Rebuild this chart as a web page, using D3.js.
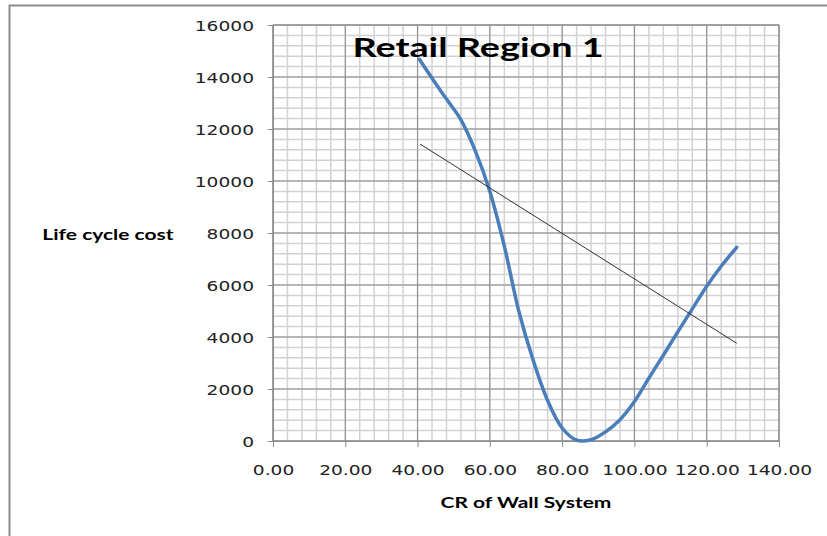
<!DOCTYPE html>
<html>
<head>
<meta charset="utf-8">
<script src="https://cdn.jsdelivr.net/npm/d3@7/dist/d3.min.js"></script>
<style>
  html, body { margin: 0; padding: 0; background: #fff; }
  svg { display: block; }
</style>
</head>
<body>
<svg id="chart" width="827" height="536"></svg>
<script>
// ---- Data ----
const title = "Retail Region 1";
const xTitle = "CR of Wall System";
const yTitle = "Life cycle cost";
const xTicks = [0, 20, 40, 60, 80, 100, 120, 140];
const yTicks = [0, 2000, 4000, 6000, 8000, 10000, 12000, 14000, 16000];
const crValues = [40.5, 44, 48, 52, 56, 60, 64, 68, 72, 76, 80, 84, 88, 92, 96, 100, 104, 108, 112, 116, 120, 124, 128.3];
const lifeCycleCost = [14680, 13950, 13150, 12350, 11150, 9600, 7500, 5000, 3100, 1550, 500, 30, 50, 350, 820, 1520, 2420, 3300, 4200, 5080, 5950, 6720, 7450];
const trendCR = [40.7, 128.3];
const trendCost = [11420, 3760];

(function () {
// ---- Layout ----
const W = 827, H = 536;
const pLeft = 273, pRight = 779, pTop = 25, pBottom = 441;
const SX_TICK = 1.33, SX_TITLE = 1.4; // horizontal stretch of text in reference
const TICK_FONT = "'DejaVu Sans', sans-serif";
const TITLE_FONT = "Lato, 'DejaVu Sans', sans-serif";

const svg = d3.select("#chart");
svg.append("rect").attr("width", W).attr("height", H).attr("fill", "#fff");

// outer frame (top + left visible)
svg.append("rect")
  .attr("x", 9.5).attr("y", 5.5).attr("width", 900).attr("height", 600)
  .attr("fill", "none").attr("stroke", "#8c8c8c").attr("stroke-width", 2);

const x = d3.scaleLinear().domain([0, 140]).range([pLeft, pRight]);
const y = d3.scaleLinear().domain([0, 16000]).range([pBottom, pTop]);

// minor grid
const g = svg.append("g");
g.append("g").selectAll("line").data(d3.range(0, 140.001, 4)).join("line")
  .attr("x1", d => x(d)).attr("x2", d => x(d)).attr("y1", pTop).attr("y2", pBottom)
  .attr("stroke", "#d2d2d2").attr("stroke-width", 1.5);
g.append("g").selectAll("line").data(d3.range(0, 16000.1, 400)).join("line")
  .attr("y1", d => y(d)).attr("y2", d => y(d)).attr("x1", pLeft).attr("x2", pRight)
  .attr("stroke", "#d2d2d2").attr("stroke-width", 1.5);
// major grid
svg.append("g").selectAll("line").data(xTicks).join("line")
  .attr("x1", d => x(d)).attr("x2", d => x(d)).attr("y1", pTop).attr("y2", pBottom)
  .attr("stroke", "#8c8c8c").attr("stroke-width", 1);
svg.append("g").selectAll("line").data(yTicks).join("line")
  .attr("y1", d => y(d)).attr("y2", d => y(d)).attr("x1", pLeft).attr("x2", pRight)
  .attr("stroke", "#8c8c8c").attr("stroke-width", 1);
// plot border
svg.append("rect").attr("x", pLeft).attr("y", pTop)
  .attr("width", pRight - pLeft).attr("height", pBottom - pTop)
  .attr("fill", "none").attr("stroke", "#8c8c8c").attr("stroke-width", 1);

// axes
const xAxis = svg.append("g").attr("transform", `translate(0,${pBottom})`)
  .call(d3.axisBottom(x).tickValues(xTicks).tickSize(6).tickSizeOuter(0).tickFormat(d3.format(".2f")));
const yAxis = svg.append("g").attr("transform", `translate(${pLeft},0)`)
  .call(d3.axisLeft(y).tickValues(yTicks).tickSize(5).tickSizeOuter(0).tickFormat(d => String(d)));
[xAxis, yAxis].forEach(a => {
  a.select(".domain").attr("stroke", "#8c8c8c");
  a.selectAll(".tick line").attr("stroke", "#8c8c8c");
  a.selectAll("text").attr("fill", "#222").attr("font-family", TICK_FONT)
    .attr("font-size", 14);
});
xAxis.selectAll("text").attr("y", 0).attr("dy", 0)
  .attr("transform", `translate(0,34) scale(${SX_TICK},1)`);
yAxis.selectAll("text").attr("x", 0).attr("dy", "0.36em")
  .attr("transform", `translate(-19,0) scale(${SX_TICK},1)`);

// series
const pts = crValues.map((c, i) => [c, lifeCycleCost[i]]);
svg.append("path").datum(pts)
  .attr("fill", "none").attr("stroke", "#4a7ebb").attr("stroke-width", 3.5)
  .attr("stroke-linecap", "round")
  .attr("d", d3.line().x(d => x(d[0])).y(d => y(d[1])).curve(d3.curveCatmullRom.alpha(0.5)));

const tpts = trendCR.map((c, i) => [c, trendCost[i]]);
svg.append("path").datum(tpts)
  .attr("fill", "none").attr("stroke", "#333").attr("stroke-width", 1)
  .attr("d", d3.line().x(d => x(d[0])).y(d => y(d[1])));

// titles
svg.append("text").text(title)
  .attr("transform", `translate(478,57) scale(${SX_TITLE},1)`)
  .attr("text-anchor", "middle").attr("font-family", TITLE_FONT)
  .attr("font-weight", "bold").attr("font-size", 27).attr("fill", "#000");
svg.append("text").text(xTitle)
  .attr("transform", `translate(526,508) scale(${SX_TITLE},1)`)
  .attr("text-anchor", "middle").attr("font-family", TITLE_FONT)
  .attr("font-weight", "bold").attr("font-size", 15).attr("fill", "#000");
svg.append("text").text(yTitle)
  .attr("transform", `translate(108,240) scale(${SX_TITLE},1)`)
  .attr("text-anchor", "middle").attr("font-family", TITLE_FONT)
  .attr("font-weight", "bold").attr("font-size", 15).attr("fill", "#000");
})();
</script>
</body>
</html>
